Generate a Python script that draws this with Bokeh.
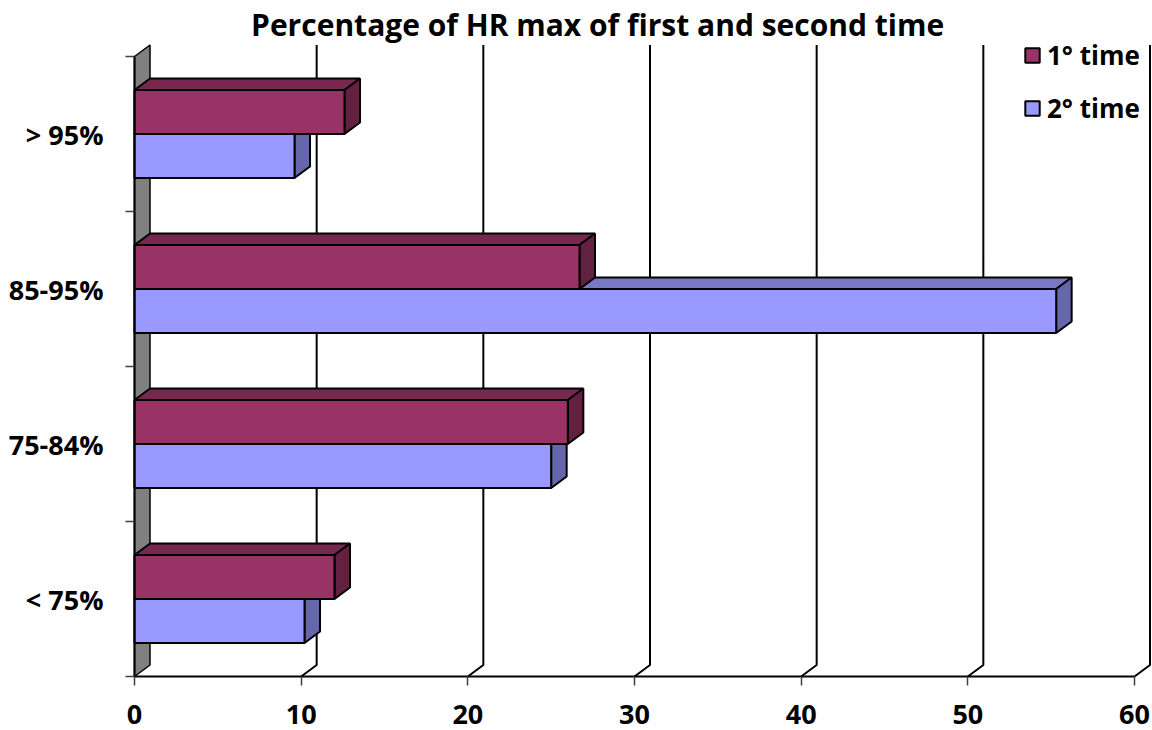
from bokeh.plotting import figure
from bokeh.models import Range1d, FixedTicker, Legend, LegendItem, Label
from bokeh.embed import file_html
from bokeh.resources import INLINE

# ---- data ----
categories = ["< 75%", "75-84%", "85-95%", "> 95%"]
first_time = [12.0, 26.0, 26.7, 12.6]
second_time = [10.2, 25.0, 55.3, 9.6]
x_ticks = [0, 10, 20, 30, 40, 50, 60]
series_names = ["1° time", "2° time"]
title_text = "Percentage of  HR max of first and second time"

# ---- style / geometry ----
FRONT = ["#993366", "#9999FF"]
TOP = ["#76284F", "#7878C4"]
SIDE = ["#632142", "#6666AA"]
FONT = "Open Sans"

W, H = 1152, 730
X0_PX = 134          # canvas x of value 0
Y0_PX = 676          # canvas y of the category axis base
PX_X = 1000 / 60.0   # pixels per x unit
PX_Y = 155.0         # pixels per category
DX = 15.5 / PX_X     # depth offset (x)
DY = 11.5 / PX_Y     # depth offset (y)
BH = 44 / PX_Y       # bar thickness

p = figure(width=W, height=H, output_backend="svg", toolbar_location=None,
           x_range=Range1d(-X0_PX / PX_X, (W - X0_PX) / PX_X),
           y_range=Range1d(-(H - Y0_PX) / PX_Y, Y0_PX / PX_Y),
           min_border_left=0, min_border_right=0, min_border_top=0,
           min_border_bottom=0)
p.grid.visible = False
p.outline_line_color = None
p.background_fill_color = "white"
p.border_fill_color = "white"

n = len(categories)

# back wall gridlines with floor diagonals
gxs, gys = [], []
for v in x_ticks[1:]:
    gxs.append([v, v + DX, v + DX])
    gys.append([0, DY, n + DY])
p.multi_line(gxs, gys, line_color="black", line_width=2)

# left wall
p.patch([0, DX, DX, 0], [0, DY, n + DY, n], fill_color="#808080",
        line_color="black", line_width=1.5)

# bars
front_r = {}
for i in range(n):
    c = i + 0.5
    for s, vals in [(1, second_time), (0, first_time)]:
        v = vals[i]
        b = c - BH if s == 1 else c
        t = b + BH
        p.patch([0, v, v + DX, DX], [t, t, t + DY, t + DY],
                fill_color=TOP[s], line_color="black", line_width=2)
        p.patch([v, v + DX, v + DX, v], [b, b + DY, t + DY, t],
                fill_color=SIDE[s], line_color="black", line_width=2)
        r = p.quad(left=0, right=v, bottom=b, top=t, fill_color=FRONT[s],
                   line_color="black", line_width=2)
        front_r.setdefault(s, r)

# title
p.add_layout(Label(x=(601 - X0_PX) / PX_X, y=(Y0_PX - 24) / PX_Y, text=title_text,
                   text_align="center", text_baseline="middle",
                   text_font=FONT, text_font_style="bold",
                   text_font_size="30px", text_color="black"))

# axes (fixed at the data origin)
xa = p.xaxis[0]
xa.fixed_location = 0
xa.ticker = FixedTicker(ticks=x_ticks)
xa.bounds = (0, 60)
xa.axis_line_color = "black"
xa.axis_line_width = 2
xa.major_tick_line_color = "#404040"
xa.major_tick_line_width = 1.5
xa.major_tick_out = 9
xa.major_tick_in = 0
xa.minor_tick_line_color = None
xa.major_label_standoff = 19
xa.major_label_text_font = FONT
xa.major_label_text_font_style = "bold"
xa.major_label_text_font_size = "27px"
xa.major_label_text_color = "black"

ya = p.yaxis[0]
ya.fixed_location = 0
ya.ticker = FixedTicker(ticks=[i + 0.5 for i in range(n)],
                        minor_ticks=list(range(n + 1)))
ya.major_label_overrides = {i + 0.5: categories[i] for i in range(n)}
ya.bounds = (0, n)
ya.axis_line_color = "black"
ya.axis_line_width = 2
ya.major_tick_line_color = None
ya.major_tick_out = 9
ya.major_tick_in = 0
ya.minor_tick_line_color = "#404040"
ya.minor_tick_line_width = 1.5
ya.minor_tick_out = 9
ya.minor_tick_in = 0
ya.major_label_standoff = 22
ya.major_label_text_font = FONT
ya.major_label_text_font_style = "bold"
ya.major_label_text_font_size = "27px"
ya.major_label_text_color = "black"

legend = Legend(items=[LegendItem(label=series_names[0], renderers=[front_r[0]]),
                       LegendItem(label=series_names[1], renderers=[front_r[1]])],
                location=(1023, 604), orientation="vertical",
                padding=0, margin=0, spacing=17,
                glyph_width=18, glyph_height=18, label_height=30,
                label_standoff=6, border_line_color=None,
                background_fill_alpha=0,
                label_text_font=FONT, label_text_font_style="bold",
                label_text_font_size="26px", label_text_color="black")
p.add_layout(legend)

open("out.html", "w").write(file_html(p, INLINE))
